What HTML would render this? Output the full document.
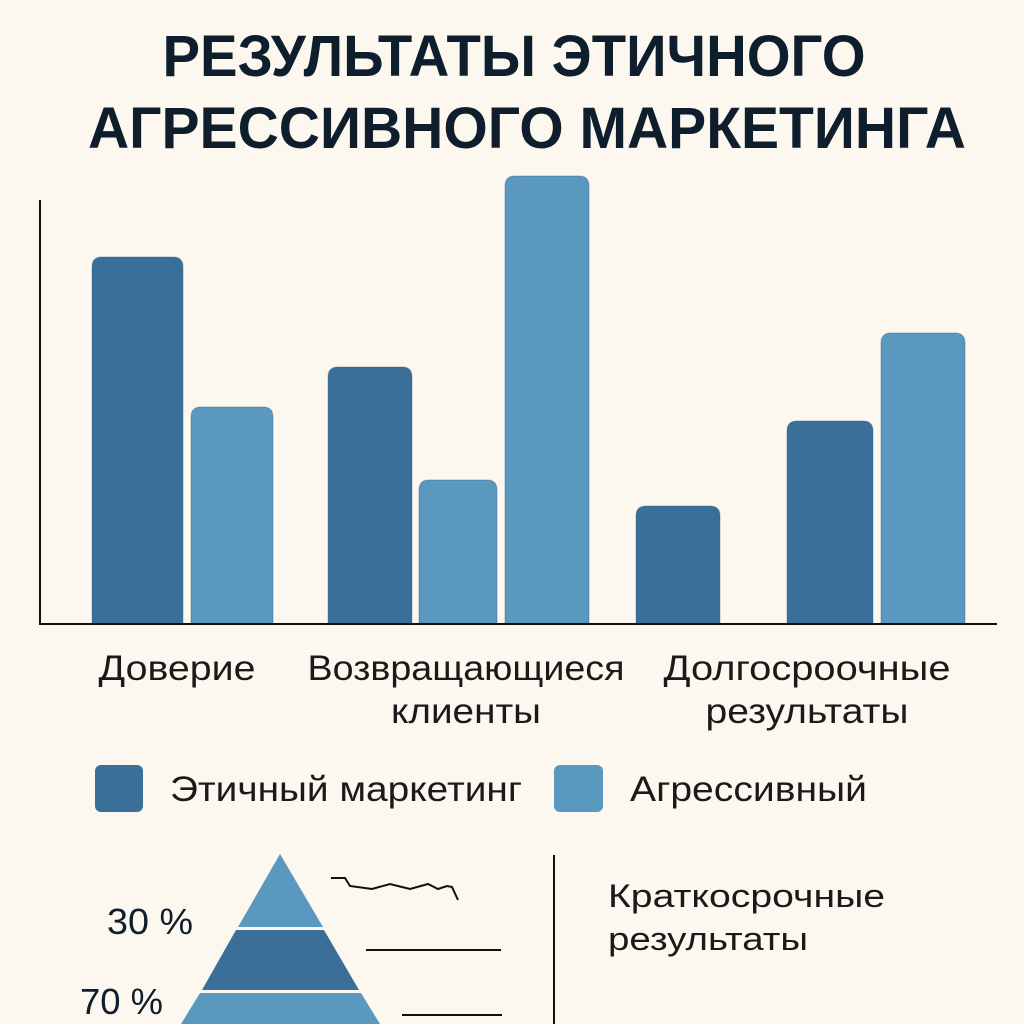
<!DOCTYPE html>
<html><head><meta charset="utf-8"><style>
html,body{margin:0;padding:0;background:#fcf8f0;}
svg{display:block;font-family:"Liberation Sans","DejaVu Sans",sans-serif;}
</style></head><body>
<svg width="1024" height="1024" viewBox="0 0 1024 1024">
<rect width="1024" height="1024" fill="#fcf8f0"/>
<text x="514" y="76" font-size="58" font-weight="bold" fill="#0f1e2c" text-anchor="middle" textLength="703" lengthAdjust="spacingAndGlyphs">РЕЗУЛЬТАТЫ ЭТИЧНОГО</text>
<text x="527" y="148" font-size="58" font-weight="bold" fill="#0f1e2c" text-anchor="middle" textLength="878" lengthAdjust="spacingAndGlyphs">АГРЕССИВНОГО МАРКЕТИНГА</text>
<g id="bars"></g>
<line x1="40" y1="200" x2="40" y2="624" stroke="#111" stroke-width="2"/>
<line x1="39" y1="624" x2="997" y2="624" stroke="#111" stroke-width="2"/>
<g font-size="35" fill="#1a1a1a" text-anchor="middle">
<text x="177" y="680" textLength="157" lengthAdjust="spacingAndGlyphs">Доверие</text>
<text x="466" y="680" textLength="317" lengthAdjust="spacingAndGlyphs">Возвращающиеся</text>
<text x="466" y="723" textLength="150" lengthAdjust="spacingAndGlyphs">клиенты</text>
<text x="807" y="680" textLength="287" lengthAdjust="spacingAndGlyphs">Долгосроочные</text>
<text x="807" y="723" textLength="203" lengthAdjust="spacingAndGlyphs">результаты</text>
</g>
<rect x="95" y="765" width="48" height="47" rx="6" fill="#3a6f99"/>
<text x="170" y="801" font-size="35" fill="#1a1a1a" textLength="352" lengthAdjust="spacingAndGlyphs">Этичный маркетинг</text>
<rect x="554" y="765" width="49" height="47" rx="6" fill="#5b98c0"/>
<text x="630" y="801" font-size="35" fill="#1a1a1a" textLength="237" lengthAdjust="spacingAndGlyphs">Агрессивный</text>
<polygon points="280,854 323,927 238,927" fill="#5b98c0"/>
<polygon points="236,930 324,930 359,990 202,990" fill="#3a6f99"/>
<polygon points="200,993 361,993 380,1024 181,1024" fill="#5b98c0"/>
<text x="107" y="934" font-size="36" fill="#0f1e2c" textLength="86" lengthAdjust="spacingAndGlyphs">30 %</text>
<text x="80" y="1014" font-size="36" fill="#0f1e2c" textLength="83" lengthAdjust="spacingAndGlyphs">70 %</text>
<polyline points="331,878 345,878 350,886 372,889 390,884 410,889 428,884 438,889 447,886 452,887 458,900" fill="none" stroke="#111" stroke-width="2"/>
<line x1="366" y1="950" x2="501" y2="950" stroke="#111" stroke-width="2"/>
<line x1="402" y1="1015" x2="502" y2="1015" stroke="#111" stroke-width="2"/>
<line x1="554" y1="855" x2="554" y2="1024" stroke="#111" stroke-width="2"/>
<text x="608" y="907" font-size="32" fill="#1a1a1a" textLength="277" lengthAdjust="spacingAndGlyphs">Краткосрочные</text>
<text x="608" y="950" font-size="32" fill="#1a1a1a" textLength="200" lengthAdjust="spacingAndGlyphs">результаты</text>
</svg>
<script>
const barValues = [91.75, 54.25, 64.25, 36, 112, 29.5, 50.75, 72.75];
const barSeries = ["ethical","aggressive","ethical","aggressive","aggressive","ethical","ethical","aggressive"];
const barLeft = [92, 191, 328, 419, 505, 636, 787, 881];
const barWidth = [91, 82, 84, 78, 84, 84, 86, 84];
const yMax = 120;
const baseY = 624, plotHeight = 480;
function yScale(v){ return baseY - v/yMax*plotHeight; }
const colors = {ethical:"#3a6f99", aggressive:"#5b98c0"};
const g = document.getElementById('bars');
barValues.forEach((v,i)=>{
  const y = yScale(v);
  const r = document.createElementNS('http://www.w3.org/2000/svg','path');
  const x = barLeft[i], w = barWidth[i], rr = 10;
  r.setAttribute('d', `M${x},${baseY} L${x},${y+rr} Q${x},${y} ${x+rr},${y} L${x+w-rr},${y} Q${x+w},${y} ${x+w},${y+rr} L${x+w},${baseY} Z`);
  r.setAttribute('fill', colors[barSeries[i]]);
  r.setAttribute('stroke', '#2e5f86');
  r.setAttribute('stroke-opacity', '0.4');
  
  
  g.appendChild(r);
});
</script>
</body></html>
